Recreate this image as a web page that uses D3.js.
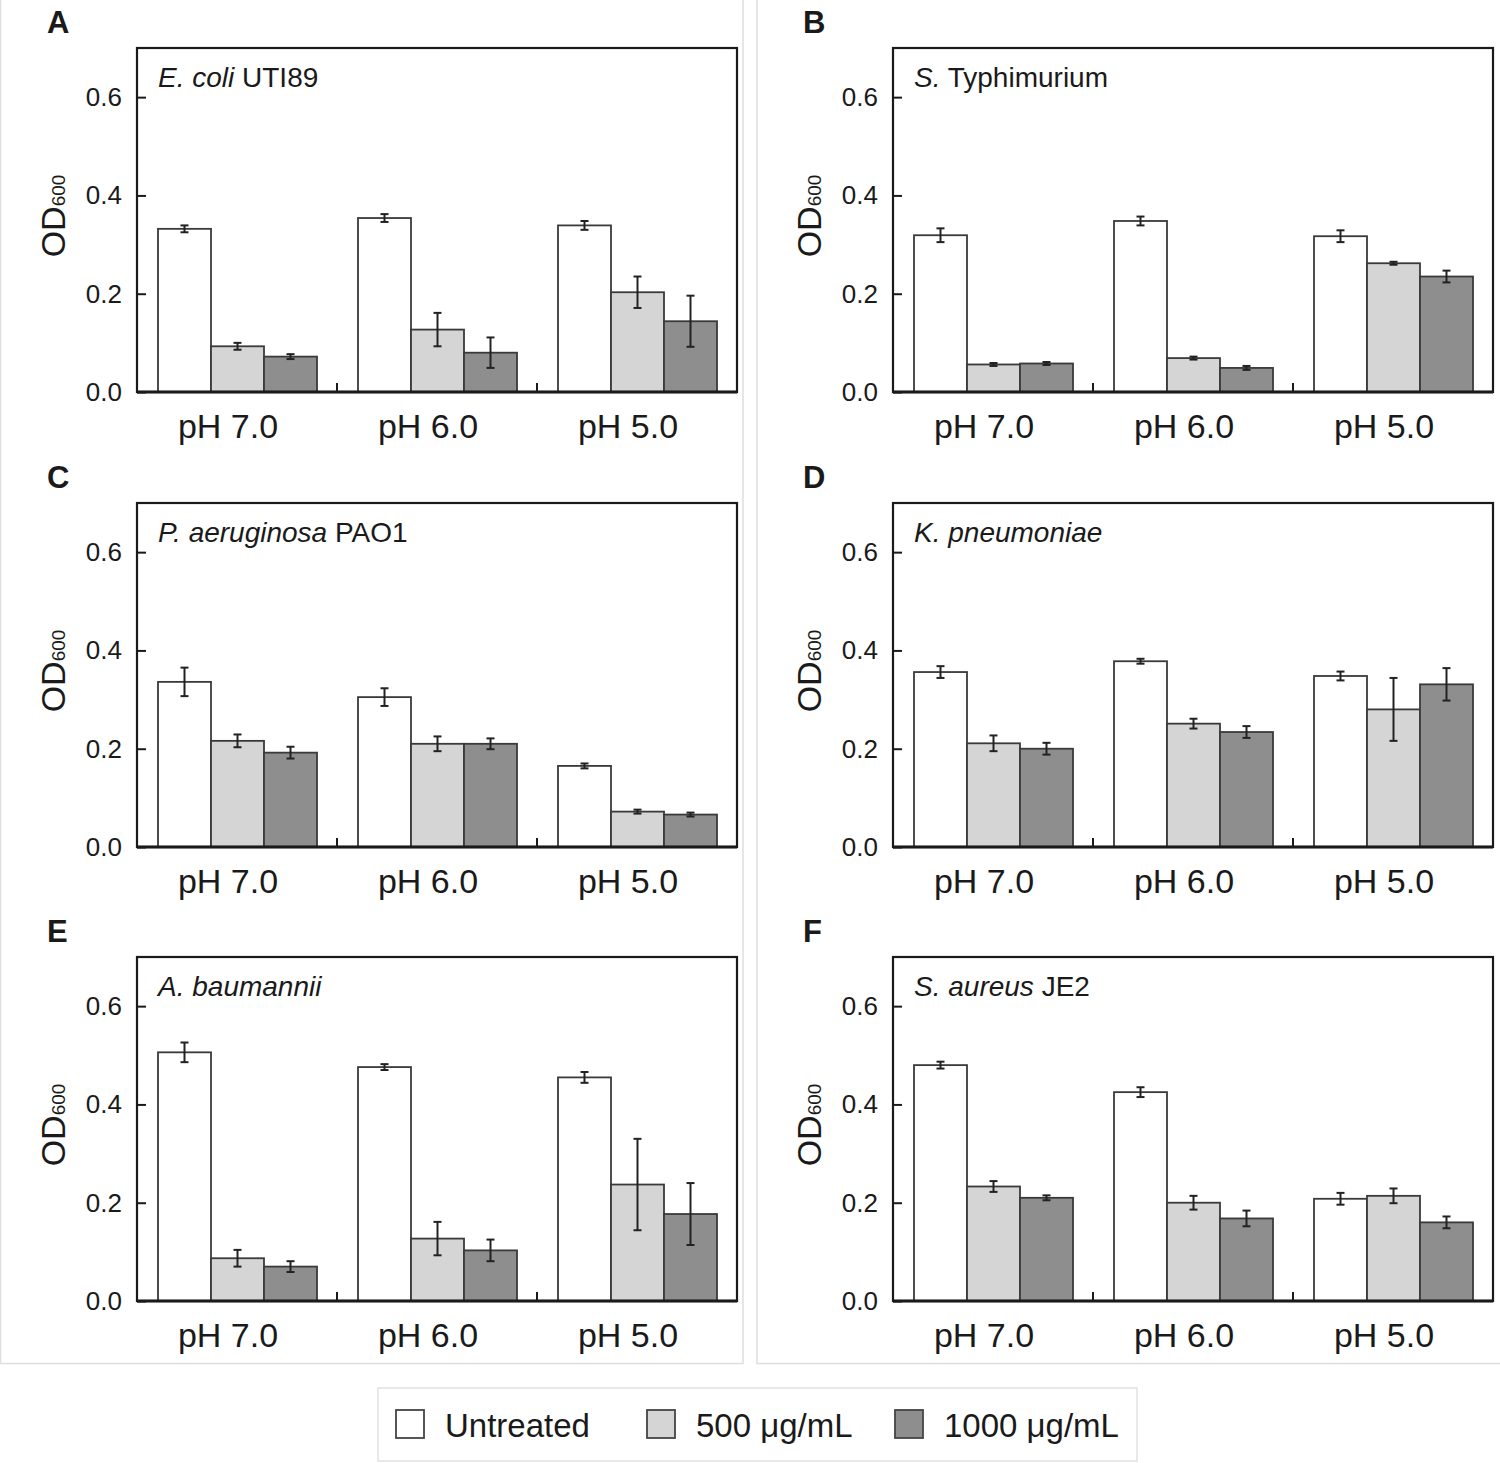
<!DOCTYPE html>
<html>
<head>
<meta charset="utf-8">
<script src="https://cdn.jsdelivr.net/npm/d3@7"></script>
<style>
  html, body { margin: 0; padding: 0; background: #fff; }
  svg { display: block; font-family: "Liberation Sans", Arial, Helvetica, sans-serif; }
</style>
</head>
<body>
<svg id="chart" width="1500" height="1463"></svg>
<script>
// ---------- data ----------
const categories = ["pH 7.0", "pH 6.0", "pH 5.0"];
const series = ["Untreated", "500 μg/mL", "1000 μg/mL"];
const seriesColors = ["#ffffff", "#d5d5d5", "#8e8e8e"];
const panelLetters = ["A", "B", "C", "D", "E", "F"];
const speciesItalic = ["E. coli", "S.", "P. aeruginosa", "K. pneumoniae", "A. baumannii", "S. aureus"];
const speciesStrain = ["UTI89", "Typhimurium", "PAO1", "", "", "JE2"];
const yTicks = [0, 0.2, 0.4, 0.6];

// means: [category][series]
const ecoliMean = [[0.332, 0.093, 0.072], [0.354, 0.127, 0.080], [0.339, 0.203, 0.144]];
const ecoliErr  = [[0.007, 0.007, 0.005], [0.008, 0.034, 0.031], [0.009, 0.032, 0.052]];
const salmMean  = [[0.319, 0.056, 0.058], [0.348, 0.069, 0.049], [0.317, 0.262, 0.235]];
const salmErr   = [[0.014, 0.003, 0.003], [0.009, 0.003, 0.004], [0.012, 0.003, 0.012]];
const paerMean  = [[0.336, 0.216, 0.192], [0.305, 0.210, 0.210], [0.165, 0.072, 0.066]];
const paerErr   = [[0.029, 0.013, 0.012], [0.018, 0.015, 0.011], [0.005, 0.004, 0.004]];
const kpnMean   = [[0.356, 0.211, 0.200], [0.378, 0.251, 0.234], [0.348, 0.280, 0.331]];
const kpnErr    = [[0.012, 0.016, 0.012], [0.005, 0.010, 0.012], [0.009, 0.064, 0.033]];
const abauMean  = [[0.506, 0.087, 0.070], [0.476, 0.127, 0.103], [0.455, 0.237, 0.177]];
const abauErr   = [[0.020, 0.017, 0.011], [0.006, 0.034, 0.022], [0.011, 0.093, 0.063]];
const saurMean  = [[0.480, 0.233, 0.210], [0.425, 0.200, 0.168], [0.208, 0.214, 0.160]];
const saurErr   = [[0.007, 0.011, 0.005], [0.010, 0.014, 0.016], [0.012, 0.015, 0.012]];

const panelMeans = [ecoliMean, salmMean, paerMean, kpnMean, abauMean, saurMean];
const panelErrs  = [ecoliErr, salmErr, paerErr, kpnErr, abauErr, saurErr];

// ---------- layout ----------
const svg = d3.select("#chart");
const plotW = 600, plotH = 344;
const colX = [137, 893];
const rowY = [48, 503, 957];
const ink = "#1a1a1a";

// column background boxes
svg.append("rect").attr("x", 0.5).attr("y", -2).attr("width", 742.5).attr("height", 1365.5)
  .attr("fill", "none").attr("stroke", "#dedede").attr("stroke-width", 1.5);
svg.append("rect").attr("x", 757).attr("y", -2).attr("width", 745).attr("height", 1365.5)
  .attr("fill", "none").attr("stroke", "#dedede").attr("stroke-width", 1.5);

const x = d3.scaleBand().domain(categories).range([0, plotW]).padding(0);
const xs = d3.scaleBand().domain(series).range([21, 180]).padding(0);
const y = d3.scaleLinear().domain([0, 0.7]).range([plotH, 0]);
const color = d3.scaleOrdinal().domain(series).range(seriesColors);

panelLetters.forEach((letter, p) => {
  const col = p % 2, row = Math.floor(p / 2);
  const g = svg.append("g").attr("transform", `translate(${colX[col]},${rowY[row]})`);

  // panel letter
  g.append("text").attr("x", -90).attr("y", -15)
    .attr("font-size", 31).attr("font-weight", "bold").attr("fill", ink).text(letter);

  // bars
  const means = panelMeans[p], errs = panelErrs[p];
  const rows = [];
  categories.forEach((c, ci) => series.forEach((s, si) => {
    rows.push({ c, s, v: means[ci][si], e: errs[ci][si] });
  }));

  g.selectAll("rect.bar").data(rows).join("rect").attr("class", "bar")
    .attr("x", d => x(d.c) + xs(d.s))
    .attr("y", d => y(d.v))
    .attr("width", xs.bandwidth())
    .attr("height", d => y(0) - y(d.v))
    .attr("fill", d => color(d.s))
    .attr("stroke", "#3a3a3a").attr("stroke-width", 1.8);

  // error bars
  const eb = g.selectAll("g.err").data(rows).join("g").attr("class", "err")
    .attr("stroke", "#222").attr("stroke-width", 2);
  const cx = d => x(d.c) + xs(d.s) + xs.bandwidth() / 2;
  eb.append("line").attr("x1", cx).attr("x2", cx)
    .attr("y1", d => y(d.v + d.e)).attr("y2", d => y(d.v - d.e));
  eb.append("line").attr("x1", d => cx(d) - 4).attr("x2", d => cx(d) + 4)
    .attr("y1", d => y(d.v + d.e)).attr("y2", d => y(d.v + d.e));
  eb.append("line").attr("x1", d => cx(d) - 4).attr("x2", d => cx(d) + 4)
    .attr("y1", d => y(d.v - d.e)).attr("y2", d => y(d.v - d.e));

  // y axis (ticks inward)
  const ya = g.append("g").call(d3.axisLeft(y).tickValues(yTicks)
    .tickFormat(d3.format(".1f")).tickSizeInner(-9).tickSizeOuter(0).tickPadding(15));
  ya.select(".domain").remove();
  ya.selectAll(".tick line").attr("stroke", ink).attr("stroke-width", 2);
  ya.selectAll(".tick text").attr("font-size", 26).attr("fill", ink)
    .attr("font-family", "'Liberation Sans', Arial, sans-serif");

  // x axis labels
  const xa = g.append("g").attr("transform", `translate(0,${plotH})`)
    .call(d3.axisBottom(x).tickSize(0).tickPadding(22));
  xa.select(".domain").remove();
  xa.selectAll(".tick text").attr("font-size", 34).attr("fill", ink).attr("dx", -9)
    .attr("font-family", "'Liberation Sans', Arial, sans-serif");

  // category separators
  g.selectAll("line.sep").data(categories.slice(1)).join("line").attr("class", "sep")
    .attr("x1", d => x(d)).attr("x2", d => x(d))
    .attr("y1", plotH).attr("y2", plotH - 9)
    .attr("stroke", ink).attr("stroke-width", 2);

  // frame
  g.append("rect").attr("x", 0).attr("y", 0).attr("width", plotW).attr("height", plotH)
    .attr("fill", "none").attr("stroke", ink).attr("stroke-width", 2.2);
  g.append("line").attr("x1", 0).attr("x2", plotW).attr("y1", plotH).attr("y2", plotH)
    .attr("stroke", ink).attr("stroke-width", 3);

  // species label
  const sl = g.append("text").attr("x", 21).attr("y", 39).attr("font-size", 28).attr("fill", ink);
  sl.append("tspan").attr("font-style", "italic").text(speciesItalic[p]);
  if (speciesStrain[p]) sl.append("tspan").text(" " + speciesStrain[p]);

  // y title OD600
  const yt = g.append("text").attr("transform", `translate(-72,${plotH / 2 - 4}) rotate(-90)`)
    .attr("text-anchor", "middle").attr("fill", ink);
  yt.append("tspan").attr("font-size", 34).text("OD");
  yt.append("tspan").attr("font-size", 19).text("600");
});

// ---------- legend ----------
const legend = svg.append("g");
legend.append("rect").attr("x", 378).attr("y", 1388).attr("width", 759).attr("height", 73)
  .attr("fill", "none").attr("stroke", "#e2e2e2").attr("stroke-width", 1.5);
const legX = [396, 647, 895];
series.forEach((s, i) => {
  legend.append("rect").attr("x", legX[i]).attr("y", 1410).attr("width", 28).attr("height", 28)
    .attr("fill", color(s)).attr("stroke", "#444").attr("stroke-width", 1.8);
  legend.append("text").attr("x", legX[i] + 49).attr("y", 1437)
    .attr("font-size", 33).attr("fill", ink).text(s);
});
</script>
</body>
</html>
